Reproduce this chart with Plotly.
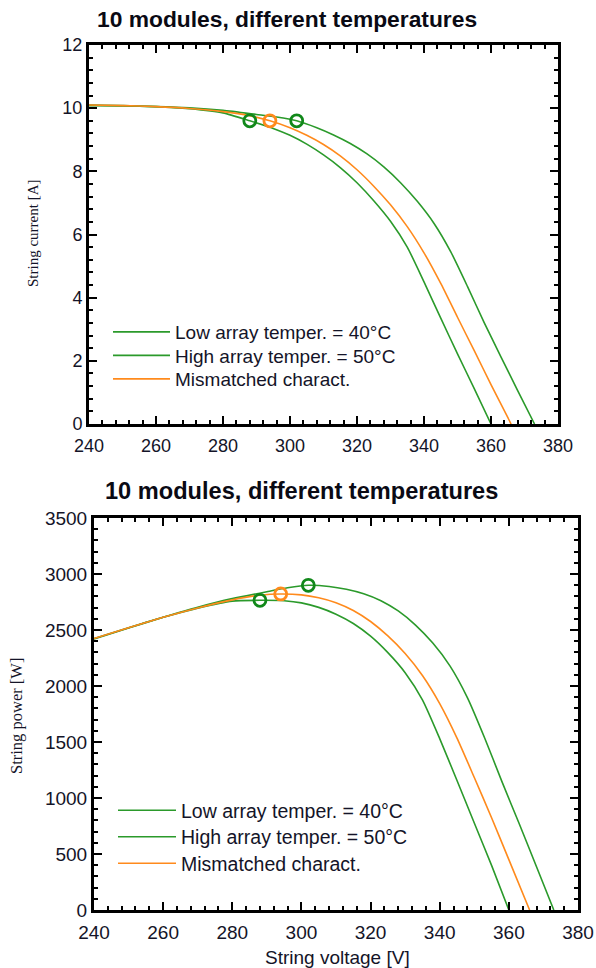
import plotly.graph_objects as go

# ---------------- data ----------------
# High array temperature = 50°C
v_high = [240, 250, 260, 270, 280, 288, 295, 300, 305, 310, 315, 320, 325, 330, 335, 340, 345, 350, 355, 360]
i_high = [10.10, 10.08, 10.05, 9.98, 9.85, 9.60, 9.36, 9.14, 8.86, 8.52, 8.12, 7.64, 7.07, 6.42, 5.60, 4.50, 3.35, 2.22, 1.12, 0.0]
p_high = [2424, 2520, 2613, 2695, 2758, 2765, 2761, 2742, 2702, 2641, 2558, 2445, 2298, 2119, 1876, 1530, 1156, 777, 398, 0]

# Low array temperature = 40°C
v_low = [240, 250, 260, 270, 280, 290, 296, 302, 308, 313, 318, 323, 328, 333, 338, 343, 348, 353, 358, 363, 368, 373]
i_low = [10.08, 10.07, 10.05, 10.01, 9.93, 9.80, 9.72, 9.60, 9.38, 9.15, 8.88, 8.55, 8.14, 7.64, 7.05, 6.35, 5.45, 4.35, 3.20, 2.12, 1.05, 0.0]
p_low = [2419, 2518, 2613, 2703, 2780, 2842, 2877, 2899, 2889, 2864, 2824, 2762, 2670, 2544, 2383, 2178, 1897, 1536, 1146, 770, 386, 0]

# Mismatched characteristic
v_mis = [240, 250, 260, 270, 280, 288, 294, 300, 305, 310, 315, 320, 325, 330, 335, 340, 345, 350, 355, 360, 366]
i_mis = [10.10, 10.08, 10.05, 9.99, 9.89, 9.76, 9.60, 9.38, 9.14, 8.85, 8.49, 8.05, 7.53, 6.94, 6.25, 5.42, 4.45, 3.38, 2.32, 1.25, 0.0]
p_mis = [2424, 2520, 2613, 2697, 2769, 2811, 2822, 2814, 2788, 2744, 2674, 2576, 2447, 2290, 2094, 1843, 1535, 1183, 824, 450, 0]

# Maximum power points: high temp, low temp, mismatched
mpp_v = [288, 302, 294]
mpp_i = [9.6, 9.6, 9.6]
mpp_p = [2765, 2899, 2822]

names = ["Low array temper. = 40°C", "High array temper. = 50°C", "Mismatched charact."]
title_text = "10 modules, different temperatures"

x_ticks = [240, 260, 280, 300, 320, 340, 360, 380]
i_ticks = [0, 2, 4, 6, 8, 10, 12]
p_ticks = [0, 500, 1000, 1500, 2000, 2500, 3000, 3500]

GREEN = "#2b9a2b"
GREEN_MK = "#11881a"
ORANGE = "#ff8a1c"
TXT = "#141428"

W, H = 596, 968

fig = go.Figure()

series = [
    (v_low, i_low, p_low, names[0], GREEN),
    (v_high, i_high, p_high, names[1], GREEN),
    (v_mis, i_mis, p_mis, names[2], ORANGE),
]
for k, (v, i, p, nm, col) in enumerate(series):
    fig.add_trace(go.Scatter(x=v, y=i, mode="lines", name=nm,
                             line=dict(color=col, width=1.6, shape="spline", smoothing=0.6),
                             xaxis="x", yaxis="y",
                             legend="legend" if k == 0 else "legend%d" % (k + 1)))
for k, (v, i, p, nm, col) in enumerate(series):
    fig.add_trace(go.Scatter(x=v, y=p, mode="lines", name=nm,
                             line=dict(color=col, width=1.6, shape="spline", smoothing=0.6),
                             xaxis="x2", yaxis="y2",
                             legend="legend%d" % (k + 4)))

mk_cols = [GREEN_MK, GREEN_MK, ORANGE]
fig.add_trace(go.Scatter(x=mpp_v, y=mpp_i, mode="markers", showlegend=False,
                         marker=dict(symbol="circle-open", size=12, color=mk_cols, line=dict(width=2.8, color=mk_cols)),
                         xaxis="x", yaxis="y"))
fig.add_trace(go.Scatter(x=mpp_v, y=mpp_p, mode="markers", showlegend=False,
                         marker=dict(symbol="circle-open", size=12, color=mk_cols, line=dict(width=2.8, color=mk_cols)),
                         xaxis="x2", yaxis="y2"))


def xax(domain, anchor, fs):
    return dict(domain=domain, anchor=anchor, range=[240, 380], tickvals=x_ticks, automargin=False,
                ticks="inside", ticklen=8, tickwidth=2, tickcolor="black", ticklabelstandoff=3,
                minor=dict(dtick=4, tick0=240, ticks="inside", ticklen=4, tickwidth=1.5, tickcolor="black"),
                showline=True, linewidth=3, linecolor="black", mirror="ticks",
                showgrid=False, zeroline=False,
                tickfont=dict(family="Liberation Sans, Arial", size=fs, color=TXT))


def yax(domain, anchor, rng, tv, minor_d, fs):
    return dict(domain=domain, anchor=anchor, range=rng, tickvals=tv, automargin=False,
                ticks="inside", ticklen=8, tickwidth=2, tickcolor="black",
                minor=dict(dtick=minor_d, tick0=0, ticks="inside", ticklen=4, tickwidth=1.5, tickcolor="black"),
                showline=True, linewidth=3, linecolor="black", mirror="ticks",
                showgrid=False, zeroline=False,
                tickfont=dict(family="Liberation Sans, Arial", size=fs, color=TXT))


top_x = [89 / W, 558 / W]
top_y = [1 - 424 / H, 1 - 45 / H]
bot_x = [94 / W, 578 / W]
bot_y = [1 - 910 / H, 1 - 518 / H]


def leg(xpx, ycenter, fs, iw):
    return dict(x=xpx / W, y=1 - (ycenter - 19) / H, xanchor="left", yanchor="top",
                bgcolor="rgba(0,0,0,0)", itemwidth=iw,
                font=dict(family="Liberation Sans, Arial", size=fs, color=TXT))


top_rows = [332, 355.5, 379]
bot_rows = [810, 836.5, 863]

layout_legends = {}
for k in range(3):
    key = "legend" if k == 0 else "legend%d" % (k + 1)
    layout_legends[key] = leg(108, top_rows[k], 19, 57)
    layout_legends["legend%d" % (k + 4)] = leg(113, bot_rows[k], 19.5, 58)

fig.update_layout(
    template="none",
    width=W, height=H, margin=dict(l=0, r=0, t=0, b=0, pad=0),
    paper_bgcolor="white", plot_bgcolor="white",
    xaxis=xax(top_x, "y", 18),
    yaxis=yax(top_y, "x", [0, 12], i_ticks, 0.4, 18),
    xaxis2=xax(bot_x, "y2", 19),
    yaxis2=yax(bot_y, "x2", [0, 3500], p_ticks, 100, 19),
    showlegend=True,
    **layout_legends,
)

fig.add_annotation(text="<b>" + title_text + "</b>", x=287 / W, y=1 - 19 / H, xref="paper", yref="paper",
                   showarrow=False, xanchor="center", yanchor="middle",
                   font=dict(family="Liberation Sans, Arial", size=22.8, color="#0a0a14"))
fig.add_annotation(text="<b>" + title_text + "</b>", x=301 / W, y=1 - 491 / H, xref="paper", yref="paper",
                   showarrow=False, xanchor="center", yanchor="middle",
                   font=dict(family="Liberation Sans, Arial", size=23.6, color="#0a0a14"))
fig.add_annotation(text="String current [A]", x=33 / W, y=1 - 234 / H, xref="paper", yref="paper",
                   showarrow=False, textangle=-90, xanchor="center", yanchor="middle",
                   font=dict(family="Liberation Serif, Times New Roman", size=15, color=TXT))
fig.add_annotation(text="String power [W]", x=16 / W, y=1 - 716 / H, xref="paper", yref="paper",
                   showarrow=False, textangle=-90, xanchor="center", yanchor="middle",
                   font=dict(family="Liberation Serif, Times New Roman", size=16.5, color=TXT))
fig.add_annotation(text="String voltage [V]", x=337 / W, y=1 - 957 / H, xref="paper", yref="paper",
                   showarrow=False, xanchor="center", yanchor="middle",
                   font=dict(family="Liberation Sans, Arial", size=19, color=TXT))

# remove the default 8px page margin so the figure sits at the window's top-left corner
fig.write_html("out.html", config={"displayModeBar": False},
               post_script="document.body.style.margin='0';")
